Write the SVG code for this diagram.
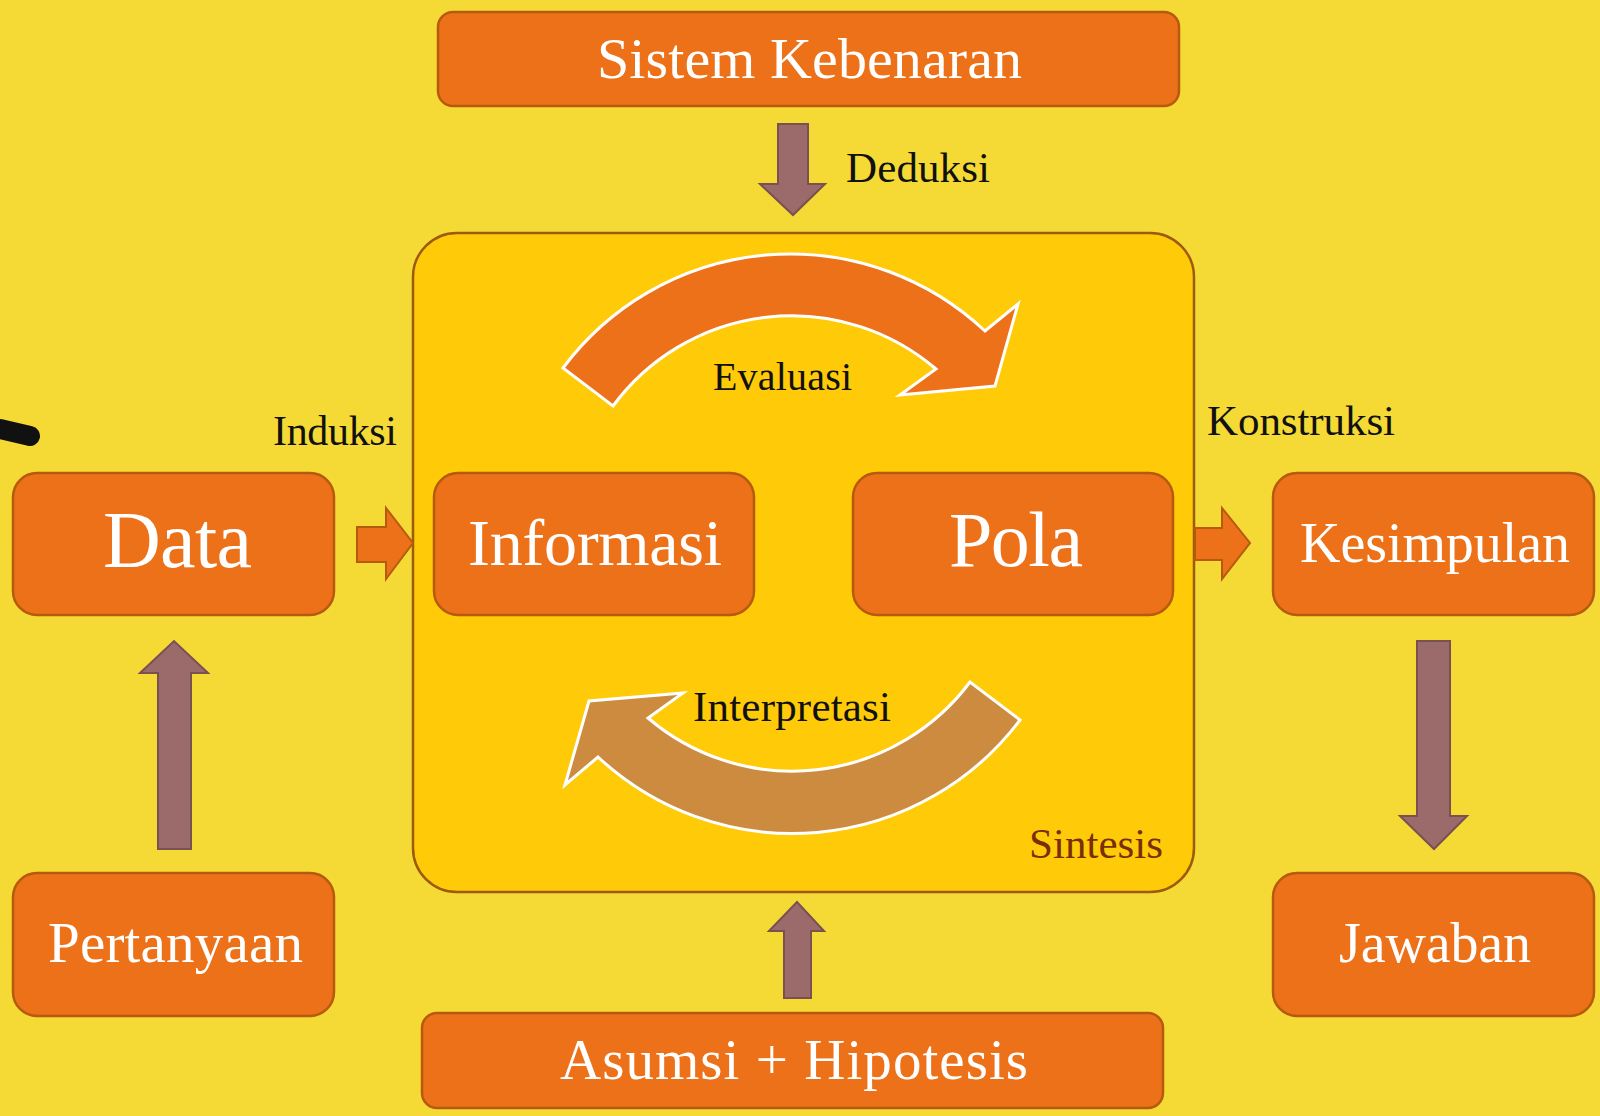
<svg xmlns="http://www.w3.org/2000/svg" width="1600" height="1116" viewBox="0 0 1600 1116">
<style>
.box{fill:#EC7118;stroke:#B65A0E;stroke-width:2.5}
.bt{fill:#FFFFFF;font-family:"Liberation Serif","Times New Roman",serif}
.lbl{fill:#111111;font-family:"Liberation Serif","Times New Roman",serif}
.barrow{fill:#9B6A6A;stroke:#7A5050;stroke-width:2}
.oarrow{fill:#EC7118;stroke:#B65A0E;stroke-width:2}
</style>
<rect x="0" y="0" width="1600" height="1116" fill="#F5DA36"/>
<path d="M0,429 L30,436" stroke="#111" stroke-width="20" stroke-linecap="round" fill="none"/>

<g id="sintesis">
<rect x="413" y="233" width="781" height="659" rx="44" fill="#FFCA08" stroke="#9C5B0E" stroke-width="2.5"/>
<text class="lbl" x="1029" y="858" font-size="43" fill="#7A2E06" style="fill:#7A2E06" textLength="134">Sintesis</text>
</g>

<g id="connectors">
<path id="evaluasi-arrow" d="M563,368 A284,284 0 0 1 985,331 L1018,304 L995,386 L900,395 L936,369 A222,222 0 0 0 613,406 Z" fill="#EC7118" stroke="#FFFFFF" stroke-width="3"/>
<text class="lbl" x="713" y="390" font-size="40" textLength="139">Evaluasi</text>
<path id="interpretasi-arrow" d="M1020,720 A285,285 0 0 1 598,757 L565,785 L589,701 L683,693 L648,718 A222,222 0 0 0 970,682 Z" fill="#CD8B3F" stroke="#FFFFFF" stroke-width="3"/>
<text class="lbl" x="693" y="721" font-size="43" textLength="198">Interpretasi</text>

<path id="induksi" class="oarrow" d="M357,527 L386,527 L386,508 L413,543 L386,579 L386,562 L357,562 Z"/>
<text class="lbl" x="273" y="445" font-size="42" textLength="124">Induksi</text>
<path id="konstruksi" class="oarrow" d="M1195,528 L1222,528 L1222,508 L1250,543 L1222,579 L1222,560 L1195,560 Z"/>
<text class="lbl" x="1207" y="435" font-size="43" textLength="188">Konstruksi</text>

<path id="deduksi" class="barrow" d="M778,124 L808,124 L808,184 L825,184 L793,215 L760,184 L778,184 Z"/>
<text class="lbl" x="846" y="182" font-size="43" textLength="144">Deduksi</text>
<path id="pertanyaan-data" class="barrow" d="M158,849 L191,849 L191,673 L208,673 L174,641 L140,673 L158,673 Z"/>
<path id="kesimpulan-jawaban" class="barrow" d="M1417,641 L1450,641 L1450,816 L1467,816 L1434,849 L1400,816 L1417,816 Z"/>
<path id="asumsi-sintesis" class="barrow" d="M784,998 L811,998 L811,931 L824,931 L797,902 L769,931 L784,931 Z"/>
</g>

<g id="sistem-kebenaran">
<rect class="box" x="438" y="12" width="741" height="94" rx="15"/>
<text class="bt" x="597" y="78" font-size="58" textLength="425">Sistem Kebenaran</text>
</g>
<g id="data">
<rect class="box" x="13" y="473" width="321" height="142" rx="24"/>
<text class="bt" x="103" y="567" font-size="80" textLength="149">Data</text>
</g>
<g id="informasi">
<rect class="box" x="434" y="473" width="320" height="142" rx="24"/>
<text class="bt" x="468" y="565" font-size="66" textLength="254">Informasi</text>
</g>
<g id="pola">
<rect class="box" x="853" y="473" width="320" height="142" rx="24"/>
<text class="bt" x="949" y="566" font-size="78" textLength="134">Pola</text>
</g>
<g id="kesimpulan">
<rect class="box" x="1273" y="473" width="321" height="142" rx="24"/>
<text class="bt" x="1300" y="562" font-size="56" textLength="270">Kesimpulan</text>
</g>
<g id="pertanyaan">
<rect class="box" x="13" y="873" width="321" height="143" rx="24"/>
<text class="bt" x="48" y="962" font-size="57" textLength="255">Pertanyaan</text>
</g>
<g id="jawaban">
<rect class="box" x="1273" y="873" width="321" height="143" rx="24"/>
<text class="bt" x="1339" y="962" font-size="56" textLength="192">Jawaban</text>
</g>
<g id="asumsi-hipotesis">
<rect class="box" x="422" y="1013" width="741" height="95" rx="15"/>
<text class="bt" x="560" y="1079" font-size="57" textLength="468">Asumsi + Hipotesis</text>
</g>
</svg>
